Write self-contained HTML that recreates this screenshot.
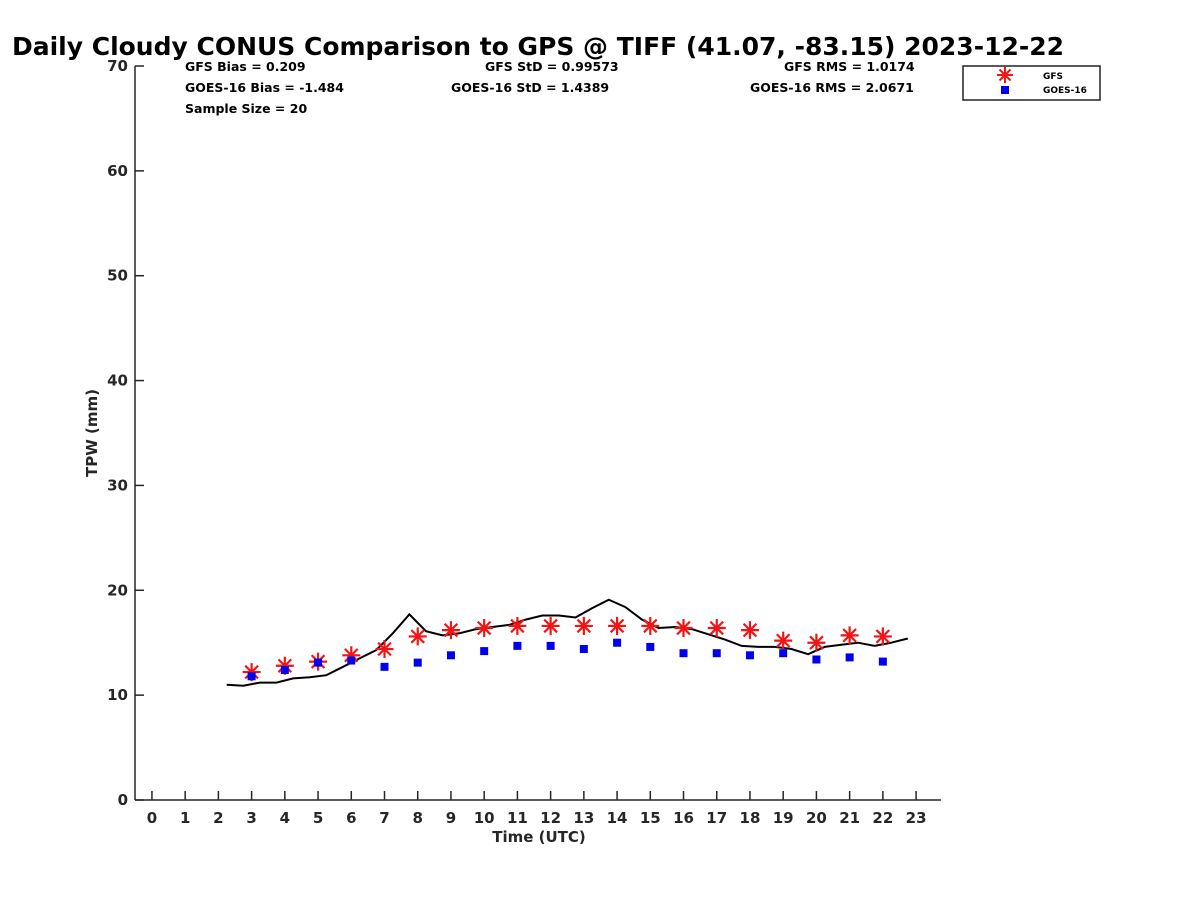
<!DOCTYPE html>
<html><head><meta charset="utf-8"><style>
body{margin:0;background:#fff}
svg text{font-family:"DejaVu Sans","Liberation Sans",sans-serif;font-weight:bold}
</style></head><body>
<svg id="chart" width="1200" height="900" viewBox="0 0 1200 900" xmlns="http://www.w3.org/2000/svg">
<rect width="1200" height="900" fill="#fff"/>
<text x="12" y="55" font-size="25" fill="#000" textLength="1052" lengthAdjust="spacingAndGlyphs">Daily Cloudy CONUS Comparison to GPS @ TIFF (41.07, -83.15) 2023-12-22</text>
<g font-size="12.5" fill="#000">
<text x="185" y="71">GFS Bias = 0.209</text>
<text x="185" y="92">GOES-16 Bias = -1.484</text>
<text x="185" y="113">Sample Size = 20</text>
<text x="485" y="71">GFS StD = 0.99573</text>
<text x="451" y="92">GOES-16 StD = 1.4389</text>
<text x="784" y="71">GFS RMS = 1.0174</text>
<text x="750" y="92">GOES-16 RMS = 2.0671</text>
</g>
<g>
<rect x="963" y="66" width="137" height="34" fill="#fff" stroke="#222" stroke-width="1.5"/>
<g stroke="#f21414" stroke-width="2">
<line x1="1005" y1="67" x2="1005" y2="83"/><line x1="997" y1="75" x2="1013" y2="75"/><line x1="999.5" y1="69.5" x2="1010.5" y2="80.5"/><line x1="1010.5" y1="69.5" x2="999.5" y2="80.5"/></g>
<rect x="1001" y="86" width="8" height="8" fill="#0000ee"/>
<text x="1043" y="79" font-size="9">GFS</text>
<text x="1043" y="93" font-size="9">GOES-16</text>
</g>
<g id="axes"></g>
<g id="marks"></g>
</svg>
<script>
const hours = [3,4,5,6,7,8,9,10,11,12,13,14,15,16,17,18,19,20,21,22];
const gfsValues = [12.2,12.8,13.2,13.8,14.4,15.6,16.2,16.4,16.6,16.6,16.6,16.6,16.6,16.4,16.4,16.2,15.2,15.0,15.7,15.6];
const goesValues = [11.8,12.4,13.1,13.3,12.7,13.1,13.8,14.2,14.7,14.7,14.4,15.0,14.6,14.0,14.0,13.8,14.0,13.4,13.6,13.2];
const gpsTimes = [2.25,2.75,3.25,3.75,4.25,4.75,5.25,5.75,6.25,6.75,7.25,7.75,8.25,8.75,9.25,9.75,10.25,10.75,11.25,11.75,12.25,12.75,13.25,13.75,14.25,14.75,15.25,15.75,16.25,16.75,17.25,17.75,18.25,18.75,19.25,19.75,20.25,20.75,21.25,21.75,22.25,22.75];
const gpsValues = [11.0,10.9,11.2,11.2,11.6,11.7,11.9,12.7,13.5,14.3,15.9,17.7,16.1,15.7,15.9,16.3,16.5,16.7,17.2,17.6,17.6,17.4,18.3,19.1,18.4,17.2,16.4,16.5,16.3,15.8,15.3,14.7,14.6,14.6,14.4,13.9,14.6,14.8,15.0,14.7,15.0,15.4];
const xTicks = [0,1,2,3,4,5,6,7,8,9,10,11,12,13,14,15,16,17,18,19,20,21,22,23];
const yTicks = [0,10,20,30,40,50,60,70];

const NS = "http://www.w3.org/2000/svg";
const X0=135, X1=941, Y0=800, Y1=66;
const xMin=-0.51, xMax=23.75, yMin=0, yMax=70;
const xs = v => X0 + (v - xMin) / (xMax - xMin) * (X1 - X0);
const ys = v => Y0 - (v - yMin) / (yMax - yMin) * (Y0 - Y1);
function mk(tag, attrs, parent){const e=document.createElementNS(NS,tag);for(const k in attrs)e.setAttribute(k,attrs[k]);parent.appendChild(e);return e;}
const axes=document.getElementById('axes'), marks=document.getElementById('marks');

const xa=mk('line',{x1:X0,y1:Y0,x2:X1,y2:Y0,stroke:'#262626','stroke-width':1.5},axes);


const ya=mk('line',{x1:X0,y1:Y0,x2:X0,y2:Y1,stroke:'#262626','stroke-width':1.5},axes);


xTicks.forEach(t=>{
  const l=mk('line',{x1:xs(t),y1:Y0,x2:xs(t),y2:Y0-9,stroke:'#262626','stroke-width':1.5},axes);
  
  
  const tx=mk('text',{x:xs(t),y:Y0+23,'text-anchor':'middle','font-size':15,fill:'#262626'},axes);
  tx.textContent=t;
  
  
});
yTicks.forEach(t=>{
  const l=mk('line',{x1:X0,y1:ys(t),x2:X0+9,y2:ys(t),stroke:'#262626','stroke-width':1.5},axes);
  
  
  const tx=mk('text',{x:X0-7,y:ys(t)+5,'text-anchor':'end','font-size':15,fill:'#262626'},axes);
  tx.textContent=t;
  
  
});
const xt=mk('text',{x:539,y:842,'text-anchor':'middle','font-size':15,fill:'#262626'},axes);
xt.textContent='Time (UTC)';


const yt=mk('text',{x:97,y:433,'text-anchor':'middle','font-size':15,fill:'#262626',transform:'rotate(-90 97 433)'},axes);
yt.textContent='TPW (mm)';



const pts=gpsTimes.map((t,i)=>xs(t).toFixed(1)+','+ys(gpsValues[i]).toFixed(1)).join(' ');
const pl=mk('polyline',{points:pts,fill:'none',stroke:'#000','stroke-width':2},marks);



hours.forEach((h,i)=>{
  const cx=xs(h), cy=ys(gfsValues[i]);
  const g=mk('g',{stroke:'#f21414','stroke-width':2.2},marks);
  
  
  mk('line',{x1:cx,y1:cy-9,x2:cx,y2:cy+9},g);
  mk('line',{x1:cx-9,y1:cy,x2:cx+9,y2:cy},g);
  mk('line',{x1:cx-6.4,y1:cy-6.4,x2:cx+6.4,y2:cy+6.4},g);
  mk('line',{x1:cx+6.4,y1:cy-6.4,x2:cx-6.4,y2:cy+6.4},g);
});
hours.forEach((h,i)=>{
  const r=mk('rect',{x:xs(h)-4,y:ys(goesValues[i])-4,width:8,height:8,fill:'#0000ee'},marks);
  
  
});
</script>
</body></html>
